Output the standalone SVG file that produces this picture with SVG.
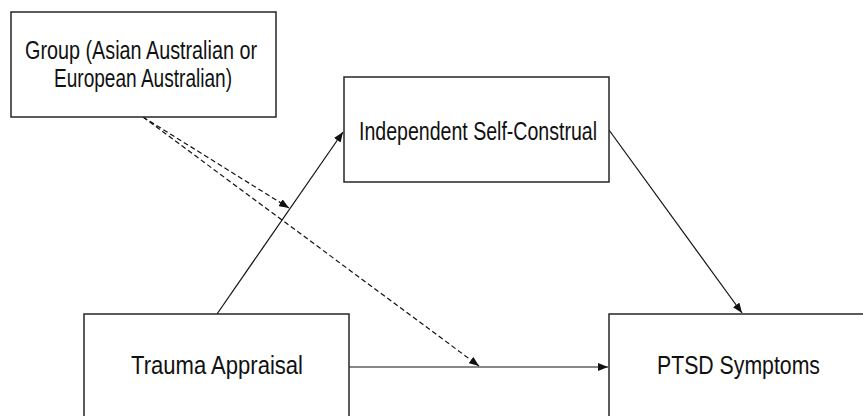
<svg xmlns="http://www.w3.org/2000/svg" width="863" height="416" viewBox="0 0 863 416">
<style>
.box{fill:#fff;stroke:#262626;stroke-width:1.5}
.lbl{font-family:"Liberation Sans",Arial,sans-serif;font-size:25px;fill:#111;text-anchor:middle}
.ln{stroke:#111;stroke-width:1.2;fill:none}
.dash{stroke-dasharray:5,3}
</style>
<defs>
<marker id="ah" viewBox="0 0 10 8" refX="10" refY="4" markerWidth="10" markerHeight="8" markerUnits="userSpaceOnUse" orient="auto">
<path d="M0,0 L10,4 L0,8 Z" fill="#111"/>
</marker>
</defs>
<rect width="863" height="416" fill="#fff"/>
<g id="connectors">
<line class="ln" x1="217" y1="314" x2="343" y2="132" marker-end="url(#ah)"/>
<line class="ln" x1="609" y1="130" x2="742" y2="313" marker-end="url(#ah)"/>
<line class="ln" x1="349" y1="367" x2="608" y2="367" marker-end="url(#ah)"/>
<line class="ln dash" x1="143" y1="117" x2="289" y2="208" marker-end="url(#ah)"/>
<line class="ln dash" x1="143" y1="117" x2="479" y2="366" marker-end="url(#ah)"/>
</g>
<g id="group">
<rect class="box" x="11" y="12" width="265" height="105"/>
<text class="lbl" x="141" y="59" textLength="232" lengthAdjust="spacingAndGlyphs">Group (Asian Australian or</text>
<text class="lbl" x="143" y="87" textLength="178" lengthAdjust="spacingAndGlyphs">European Australian)</text>
</g>
<g id="isc">
<rect class="box" x="344" y="77" width="265" height="105"/>
<text class="lbl" x="478" y="140" textLength="238" lengthAdjust="spacingAndGlyphs">Independent Self-Construal</text>
</g>
<g id="trauma">
<rect class="box" x="84" y="314" width="265" height="120"/>
<text class="lbl" x="217" y="374" textLength="172" lengthAdjust="spacingAndGlyphs">Trauma Appraisal</text>
</g>
<g id="ptsd">
<rect class="box" x="609" y="314" width="270" height="120"/>
<text class="lbl" x="738.5" y="374" textLength="163" lengthAdjust="spacingAndGlyphs">PTSD Symptoms</text>
</g>
</svg>
